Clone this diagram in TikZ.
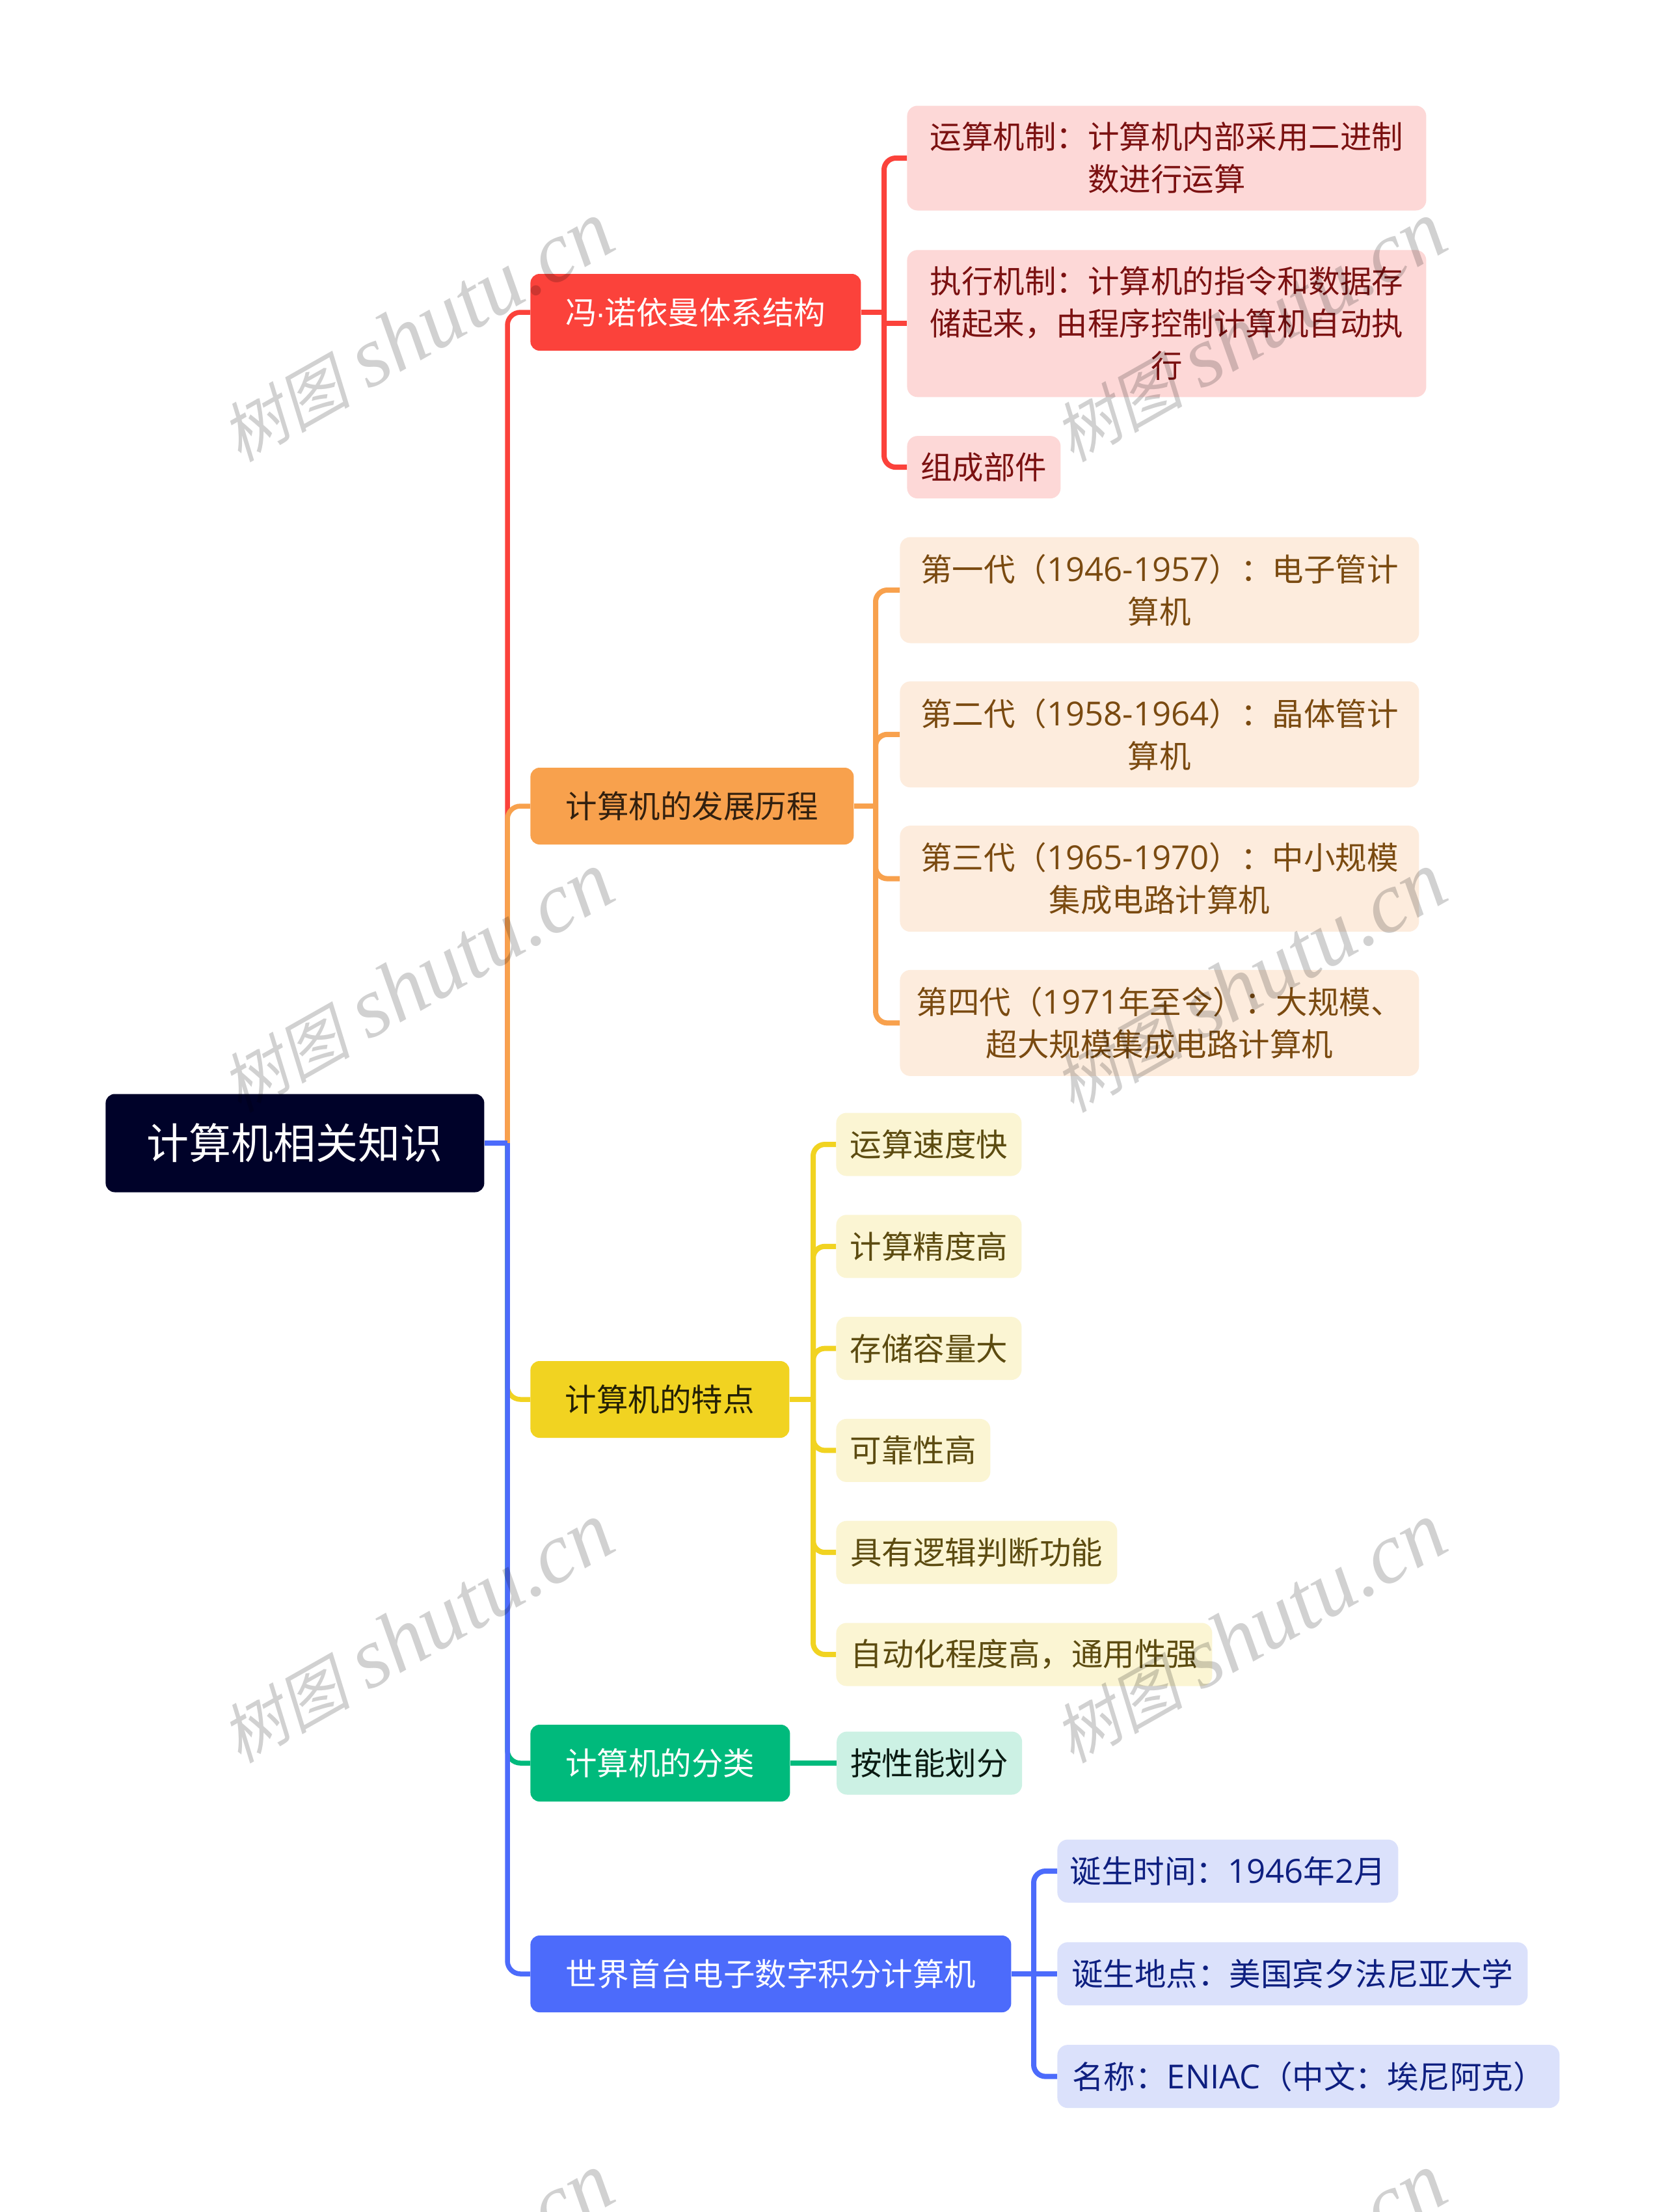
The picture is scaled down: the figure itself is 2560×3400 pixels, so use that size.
\documentclass[tikz,border=0pt]{standalone}
\usepackage{fontspec}
\setmainfont{Noto Sans CJK SC}
\newfontfamily\wmcjk[FakeSlant=.22]{Noto Sans CJK SC}
\newfontfamily\wmlatin{Liberation Serif}
\newfontfamily\latfont[Scale=1.05]{Open Sans}
\newfontfamily\dotfont{Liberation Sans}
\newcommand{\lat}[1]{{\latfont #1}}
\newcommand{\marktext}{{\wmcjk\fontsize{50}{70}\selectfont 树图}\hspace{14pt}{\wmlatin\itshape\fontsize{66}{70}\selectfont shutu.cn}}
\usetikzlibrary{positioning}
\definecolor{rootc}{HTML}{000229}
\definecolor{redc}{HTML}{FB423B}
\definecolor{orangec}{HTML}{F8A14D}
\definecolor{yellowc}{HTML}{F1D321}
\definecolor{greenc}{HTML}{00BA7C}
\definecolor{bluec}{HTML}{4C6BFB}
\definecolor{fillred}{HTML}{FDD8D7}
\definecolor{fillorange}{HTML}{FDECDD}
\definecolor{fillyellow}{HTML}{FBF5D3}
\definecolor{fillgreen}{HTML}{CCF1E4}
\definecolor{fillblue}{HTML}{DBE1FB}
\definecolor{leafred}{HTML}{7B1111}
\definecolor{leaforange}{HTML}{7A4A10}
\definecolor{leafyellow}{HTML}{5C4B10}
\definecolor{leafgreen}{HTML}{0A1A12}
\definecolor{leafblue}{HTML}{0E1F80}
\tikzset{
  main/.style={rectangle, rounded corners=7pt, inner sep=0pt, font=\fontsize{24.25}{32.5}\selectfont, align=center, anchor=west},
  branch/.style={main, minimum height=59pt, minimum width=#1, text=white},
  leaf/.style={main, rounded corners=8pt, minimum width=#1},
  redleaf/.style={leaf=#1, fill=fillred, text=leafred},
  orangeleaf/.style={leaf=#1, fill=fillorange, minimum height=81.5pt, text=leaforange},
  yellowleaf/.style={leaf=#1, fill=fillyellow, minimum height=48.5pt, text=leafyellow},
  greenleaf/.style={leaf=#1, fill=fillgreen, minimum height=48.5pt, text=leafgreen},
  blueleaf/.style={leaf=#1, fill=fillblue, minimum height=48.5pt, text=leafblue},
  link/.style={line width=4pt, rounded corners=9pt},
  mainlink/.style={line width=3.75pt, rounded corners=10pt},
  watermark/.style={opacity=.18, text=black, rotate=29.5},
}
\begin{document}
\begin{tikzpicture}[x=.5pt, y=-.5pt]
  \clip (0,0) rectangle (2560,3400);
  \fill[white] (0,0) rectangle (2560,3400);

  \node[main, fill=rootc, text=white, minimum width=291pt, minimum height=75.5pt, font=\fontsize{32.5}{40}\selectfont] (root) at (162,1757) {计算机相关知识};
  \coordinate (mainspine) at (780,1757);

  \node[branch=254pt, fill=redc] (red) at (815,480) {冯{\dotfont\kern-1pt·\kern-1pt}诺依曼体系结构};
  \node[redleaf=399pt, minimum height=80.5pt] (red1) at (1394,243) {运算机制：计算机内部采用二进制\\数进行运算};
  \node[redleaf=399pt, minimum height=113pt, below=30pt of red1.south west, anchor=north west] (red2) {执行机制：计算机的指令和数据存\\储起来，由程序控制计算机自动执\\行};
  \node[redleaf=118pt, minimum height=48pt, below=29.5pt of red2.south west, anchor=north west] (red3) {组成部件};
  \coordinate (redspine) at (1359,480);

  \node[branch=248.5pt, fill=orangec, text=black!80!orangec] (orange) at (815,1239) {计算机的发展历程};
  \node[orangeleaf=399pt] (orange1) at (1383,907) {第一代（\lat{1946-1957}）：电子管计\\算机};
  \node[orangeleaf=399pt, below=29pt of orange1.south west, anchor=north west] (orange2) {第二代（\lat{1958-1964}）：晶体管计\\算机};
  \node[orangeleaf=399pt, below=29pt of orange2.south west, anchor=north west] (orange3) {第三代（\lat{1965-1970}）：中小规模\\集成电路计算机};
  \node[orangeleaf=399pt, below=29pt of orange3.south west, anchor=north west] (orange4) {第四代（\lat{1971}年至今）：大规模、\\超大规模集成电路计算机};
  \coordinate (orangespine) at (1346,1239);

  \node[branch=199pt, fill=yellowc, text=black!85!yellowc] (yellow) at (815,2151) {计算机的特点};
  \node[yellowleaf=142.5pt] (yellow1) at (1285,1759) {运算速度快};
  \node[yellowleaf=142.5pt, below=29.5pt of yellow1.south west, anchor=north west] (yellow2) {计算精度高};
  \node[yellowleaf=142.5pt, below=29.5pt of yellow2.south west, anchor=north west] (yellow3) {存储容量大};
  \node[yellowleaf=118.5pt, below=29.5pt of yellow3.south west, anchor=north west] (yellow4) {可靠性高};
  \node[yellowleaf=216pt, below=29.5pt of yellow4.south west, anchor=north west] (yellow5) {具有逻辑判断功能};
  \node[yellowleaf=289pt, below=29.5pt of yellow5.south west, anchor=north west] (yellow6) {自动化程度高，通用性强};
  \coordinate (yellowspine) at (1250,2151);

  \node[branch=199.5pt, fill=greenc] (green) at (815,2710) {计算机的分类};
  \node[greenleaf=142.5pt, right=35.5pt of green] (green1) {按性能划分};

  \node[branch=369.5pt, fill=bluec] (blue) at (815,3034) {世界首台电子数字积分计算机};
  \node[blueleaf=262pt] (blue1) at (1625,2876) {诞生时间：\lat{1946}年\lat{2}月};
  \node[blueleaf=361.5pt, below=30pt of blue1.south west, anchor=north west] (blue2) {诞生地点：美国宾夕法尼亚大学};
  \node[blueleaf=386pt, below=30pt of blue2.south west, anchor=north west] (blue3) {名称：\lat{ENIAC}（中文：埃尼阿克）};
  \coordinate (bluespine) at (1589,3034);

  \draw[redc, mainlink] (mainspine) |- (red.west);
  \draw[orangec, mainlink] (mainspine) |- (orange.west);
  \draw[yellowc, mainlink] (mainspine) |- (yellow.west);
  \draw[greenc, mainlink] (mainspine) |- (green.west);
  \draw[bluec, mainlink] (mainspine) |- (blue.west);
  \draw[bluec, mainlink] (root.east) -- (mainspine);

  \draw[redc, link] (red.east) -- (redspine);
  \draw[redc, link] (redspine) |- (red1.west);
  \draw[redc, link, sharp corners] (redspine) |- (red2.west);
  \draw[redc, link] (redspine) |- (red3.west);

  \draw[orangec, link] (orange.east) -- (orangespine);
  \draw[orangec, link] (orangespine) |- (orange1.west);
  \draw[orangec, link] (orangespine) |- (orange2.west);
  \draw[orangec, link] (orangespine) |- (orange3.west);
  \draw[orangec, link] (orangespine) |- (orange4.west);

  \draw[yellowc, link] (yellow.east) -- (yellowspine);
  \draw[yellowc, link] (yellowspine) |- (yellow1.west);
  \draw[yellowc, link] (yellowspine) |- (yellow2.west);
  \draw[yellowc, link] (yellowspine) |- (yellow3.west);
  \draw[yellowc, link] (yellowspine) |- (yellow4.west);
  \draw[yellowc, link] (yellowspine) |- (yellow5.west);
  \draw[yellowc, link] (yellowspine) |- (yellow6.west);

  \draw[greenc, link] (green.east) -- (green1.west);

  \draw[bluec, link] (blue.east) -- (bluespine);
  \draw[bluec, link] (bluespine) |- (blue1.west);
  \draw[bluec, link, sharp corners] (bluespine) |- (blue2.west);
  \draw[bluec, link] (bluespine) |- (blue3.west);

  \node[watermark] (mark1) at (640,510) {\marktext};
  \node[watermark] (mark2) at (1920,510) {\marktext};
  \node[watermark] (mark3) at (640,1510) {\marktext};
  \node[watermark] (mark4) at (1920,1510) {\marktext};
  \node[watermark] (mark5) at (640,2510) {\marktext};
  \node[watermark] (mark6) at (1920,2510) {\marktext};
  \node[watermark] (mark7) at (640,3510) {\marktext};
  \node[watermark] (mark8) at (1920,3510) {\marktext};
\end{tikzpicture}
\end{document}
